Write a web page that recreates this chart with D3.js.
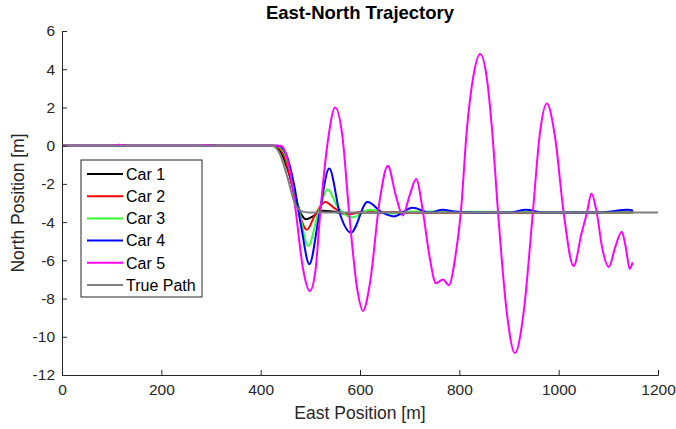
<!DOCTYPE html>
<html>
<head>
<meta charset="utf-8">
<script src="https://cdn.jsdelivr.net/npm/d3@7"></script>
<style>
  body { margin: 0; background: #fff; }
  svg { font-family: Arial, "Liberation Sans", Helvetica, sans-serif; }
</style>
</head>
<body>
<div id="chart"></div>
<script>
// x ticks / y ticks
const xTicks = [0, 200, 400, 600, 800, 1000, 1200]
const yTicks = [-12, -10, -8, -6, -4, -2, 0, 2, 4, 6]

// East positions [m] and north positions [m]
const trueE = [0, 423, 438, 455, 470, 485, 500, 1200]
const trueN = [0, 0, -0.4, -1.75, -3.1, -3.45, -3.5, -3.5]

const car1E = [0, 110, 120, 135, 285, 300, 315, 425, 440, 455, 470, 482, 492, 505, 525, 545, 570, 600, 1150]
const car1N = [0, 0, 0.03, 0, 0, 0.02, 0, 0, -0.3, -1.3, -2.7, -3.6, -3.85, -3.7, -3.4, -3.45, -3.55, -3.5, -3.5]

const car2E = [0, 428, 445, 460, 475, 493, 510, 530, 550, 575, 610, 650, 1150]
const car2N = [0, 0, -0.4, -1.7, -3.3, -4.4, -3.6, -2.95, -3.3, -3.6, -3.45, -3.5, -3.5]

const car3E = [0, 432, 448, 463, 478, 496, 515, 535, 555, 585, 620, 660, 700, 1150]
const car3N = [0, 0, -0.4, -1.7, -3.5, -5.25, -3.6, -2.3, -3.2, -3.75, -3.35, -3.55, -3.45, -3.5]

const car4E = [0, 436, 452, 467, 482, 498, 518, 538, 560, 582, 615, 645, 668, 706, 740, 767, 790, 830, 900, 934, 970, 1080, 1140, 1150]
const car4N = [0, 0, -0.5, -2, -4.3, -6.2, -3.6, -1.2, -3.6, -4.55, -2.95, -3.5, -3.7, -3.25, -3.5, -3.35, -3.45, -3.5, -3.5, -3.35, -3.5, -3.5, -3.35, -3.4]

const car5E = [0, 100, 115, 130, 270, 290, 310, 440, 455, 470, 485, 499, 510, 520, 535, 550, 565, 578, 595, 606, 620, 640, 656, 672, 686, 700, 713, 727, 740, 753, 767, 779, 792, 803, 815, 828, 842, 856, 866, 878, 895, 912, 930, 948, 962, 976, 993, 1010, 1030, 1046, 1057, 1066, 1076, 1088, 1101, 1114, 1127, 1135, 1143, 1149]
const car5N = [0, 0, 0.05, 0, 0, 0.03, 0, 0, -0.8, -3.3, -6.4, -7.6, -6.6, -3.5, 0.2, 2.0, 0.4, -3.5, -7.6, -8.65, -7.2, -2.8, -1.05, -2.6, -3.65, -2.6, -1.75, -3.5, -5.8, -7.2, -7.0, -7.3, -5.8, -3.5, 0.8, 3.6, 4.8, 3.4, 0.8, -3.5, -8.6, -10.85, -8.6, -3.5, 0.6, 2.2, 0.4, -3.5, -6.3, -4.6, -3.5, -2.5, -3.4, -5.4, -6.35, -5.3, -4.5, -5.3, -6.45, -6.1]

const names = ['Car 1', 'Car 2', 'Car 3', 'Car 4', 'Car 5', 'True Path']
const colors = ['#000000', '#ff0000', '#33ff33', '#0000ff', '#ff00ff', '#808080']

const series = [
  [car1E, car1N], [car2E, car2N], [car3E, car3N],
  [car4E, car4N], [car5E, car5N], [trueE, trueN]
].map(function (s, i) {
  return { name: names[i], color: colors[i], pts: s[0].map(function (e, j) { return [e, s[1][j]] }) }
})

const width = 676
const height = 429
const margin = { left: 62, right: 18, top: 31, bottom: 54 }
const axisColor = '#262626'

const svg = d3.select('#chart').append('svg')
  .attr('width', width)
  .attr('height', height)

const x = d3.scaleLinear().domain([0, 1200]).range([margin.left, width - margin.right])
const y = d3.scaleLinear().domain([-12, 6]).range([height - margin.bottom, margin.top])

const line = d3.line()
  .x(function (d) { return x(d[0]) })
  .y(function (d) { return y(d[1]) })
  .curve(d3.curveMonotoneX)

// car 1..5 then true path on top
const plot = svg.append('g')
series.forEach(function (s) {
  plot.append('path')
    .datum(s.pts)
    .attr('fill', 'none')
    .attr('stroke', s.color)
    .attr('stroke-width', 2)
    .attr('stroke-linejoin', 'round')
    .attr('d', line)
})

// axes, ticks pointing in like matlab
const fmt = function (d) { return String(d) }
const xAxis = svg.append('g')
  .attr('transform', 'translate(0,' + y(-12) + ')')
  .call(d3.axisBottom(x).tickValues(xTicks).tickFormat(fmt).tickSize(-5).tickPadding(9))
const yAxis = svg.append('g')
  .attr('transform', 'translate(' + x(0) + ',0)')
  .call(d3.axisLeft(y).tickValues(yTicks).tickFormat(fmt).tickSize(-5).tickPadding(7))

;[xAxis, yAxis].forEach(function (a) {
  a.select('.domain').attr('stroke', axisColor).attr('stroke-width', 1)
  a.selectAll('.tick line').attr('stroke', axisColor)
  a.selectAll('.tick text')
    .attr('fill', axisColor)
    .style('font-size', '15.5px')
    .style('font-family', 'Arial, "Liberation Sans", sans-serif')
})
xAxis.selectAll('.tick text').attr('dy', '0.72em')

// title and axis labels
svg.append('text')
  .attr('x', (x(0) + x(1200)) / 2)
  .attr('y', 19)
  .attr('text-anchor', 'middle')
  .attr('font-weight', 'bold')
  .attr('font-size', '18.5px')
  .attr('fill', '#000')
  .text('East-North Trajectory')

svg.append('text')
  .attr('x', (x(0) + x(1200)) / 2)
  .attr('y', 419)
  .attr('text-anchor', 'middle')
  .attr('font-size', '17.5px')
  .attr('fill', axisColor)
  .text('East Position [m]')

svg.append('text')
  .attr('transform', 'translate(24,' + ((y(-12) + y(6)) / 2) + ') rotate(-90)')
  .attr('text-anchor', 'middle')
  .attr('font-size', '17.5px')
  .attr('fill', axisColor)
  .text('North Position [m]')

// legend
const lg = svg.append('g').attr('transform', 'translate(81,160)')
lg.append('rect')
  .attr('width', 121)
  .attr('height', 137)
  .attr('fill', '#fff')
  .attr('stroke', axisColor)
  .attr('stroke-width', 1)

series.forEach(function (s, i) {
  const yy = 14 + i * 22.2
  lg.append('line')
    .attr('x1', 6).attr('x2', 42)
    .attr('y1', yy).attr('y2', yy)
    .attr('stroke', s.color)
    .attr('stroke-width', 2)
  lg.append('text')
    .attr('x', 45)
    .attr('y', yy)
    .attr('dy', '0.36em')
    .attr('font-size', '16px')
    .attr('fill', '#000')
    .text(s.name)
})
</script>
</body>
</html>
